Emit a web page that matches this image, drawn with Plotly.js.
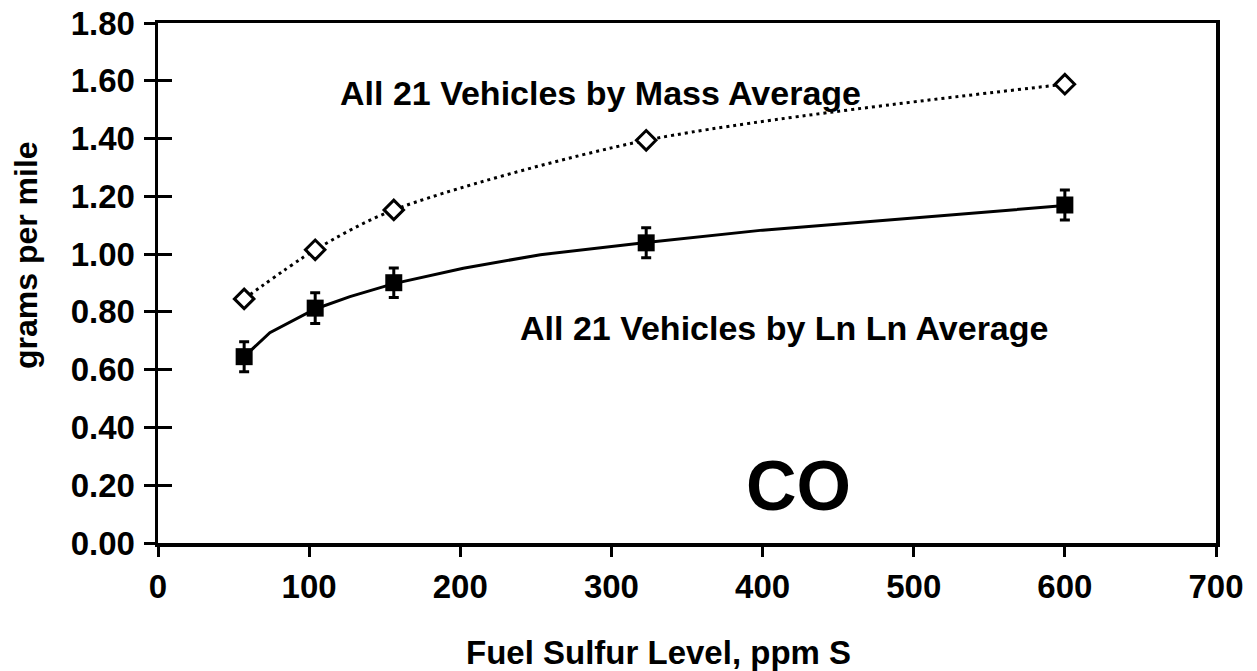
<!DOCTYPE html>
<html>
<head>
<meta charset="utf-8">
<script src="https://cdn.plot.ly/plotly-3.0.1.min.js"></script>
<style>
  html, body { margin: 0; padding: 0; background: #fff; }
  #chart { width: 1257px; height: 671px; }
</style>
</head>
<body>
<div id="chart"></div>
<script>
// Fuel sulfur levels (ppm S) of the test fuels
const sulfurLevels = [57, 104, 156, 323, 600];

// CO, grams per mile: mass average over all 21 vehicles
const massAverage = [0.845, 1.015, 1.153, 1.394, 1.588];

// CO, grams per mile: ln-ln average over all 21 vehicles, with error bars
const lnLnAverage = [0.645, 0.813, 0.901, 1.039, 1.170];
const lnLnError = [0.052, 0.053, 0.051, 0.052, 0.052];

// Fitted ln-ln trend curve
const fitSulfur = [57, 74, 104, 127, 156, 202, 253, 323, 400, 500, 600];
const fitCO = [0.645, 0.728, 0.810, 0.853, 0.898, 0.951, 0.998, 1.040, 1.083, 1.126, 1.168];

const FONT = '"Liberation Sans", Arial, Helvetica, sans-serif';

const traces = [
  {
    x: fitSulfur, y: fitCO,
    mode: 'lines', type: 'scatter',
    line: {color: '#000', width: 3},
    hoverinfo: 'skip', showlegend: false
  },
  {
    x: sulfurLevels, y: lnLnAverage,
    mode: 'markers', type: 'scatter',
    marker: {symbol: 'square', size: 17, color: '#000'},
    error_y: {type: 'data', array: lnLnError, visible: true, color: '#000', thickness: 3, width: 5},
    name: 'All 21 Vehicles by Ln Ln Average', showlegend: false
  },
  {
    x: sulfurLevels, y: massAverage,
    mode: 'lines+markers', type: 'scatter',
    line: {color: '#000', width: 3, dash: '3px,4px', shape: 'spline', smoothing: 0.8},
    marker: {symbol: 'diamond', size: 15, color: '#fff', line: {color: '#000', width: 3}},
    name: 'All 21 Vehicles by Mass Average', showlegend: false
  },
  // invisible trace that carries the inward half of the y-axis cross ticks
  {
    x: [0], y: [0], yaxis: 'y2', mode: 'markers',
    marker: {opacity: 0}, hoverinfo: 'skip', showlegend: false
  }
];

const layout = {
  width: 1257, height: 671,
  margin: {l: 158, r: 41, t: 23, b: 128},
  paper_bgcolor: '#fff', plot_bgcolor: '#fff',
  font: {family: FONT, color: '#000'},
  showlegend: false,
  xaxis: {
    range: [0, 700], tickvals: [0, 100, 200, 300, 400, 500, 600, 700],
    ticks: 'outside', ticklen: 10, tickwidth: 3, tickcolor: '#000',
    showline: true, linewidth: 3.5, linecolor: '#000', mirror: true,
    showgrid: false, zeroline: false,
    tickfont: {family: FONT, size: 33, color: '#000', weight: 'bold'},
    ticklabelstandoff: 2
  },
  yaxis: {
    range: [0, 1.8], tickvals: [0, 0.2, 0.4, 0.6, 0.8, 1.0, 1.2, 1.4, 1.6, 1.8],
    tickformat: '.2f',
    ticks: 'outside', ticklen: 11, tickwidth: 3, tickcolor: '#000',
    showline: true, linewidth: 3.5, linecolor: '#000', mirror: true,
    showgrid: false, zeroline: false,
    tickfont: {family: FONT, size: 33, color: '#000', weight: 'bold'},
    ticklabelstandoff: 2
  },
  yaxis2: {
    range: [0, 1.8], tickvals: [0, 0.2, 0.4, 0.6, 0.8, 1.0, 1.2, 1.4, 1.6, 1.8],
    overlaying: 'y', side: 'left', anchor: 'x',
    ticks: 'inside', ticklen: 14, tickwidth: 3, tickcolor: '#000',
    showticklabels: false, showline: false, showgrid: false, zeroline: false
  },
  annotations: [
    {
      x: 292.5, y: 1.556, xref: 'x', yref: 'y', showarrow: false,
      xanchor: 'center', yanchor: 'middle',
      text: 'All 21 Vehicles by Mass Average',
      font: {family: FONT, size: 34, color: '#000', weight: 'bold'}
    },
    {
      x: 414, y: 0.745, xref: 'x', yref: 'y', showarrow: false,
      xanchor: 'center', yanchor: 'middle',
      text: 'All 21 Vehicles by Ln Ln Average',
      font: {family: FONT, size: 34, color: '#000', weight: 'bold'}
    },
    {
      x: 423.5, y: 0.197, xref: 'x', yref: 'y', showarrow: false,
      xanchor: 'center', yanchor: 'middle',
      text: 'CO',
      font: {family: FONT, size: 70, color: '#000', weight: 'bold'}
    },
    {
      x: 658.5, y: 652, xref: 'paper', yref: 'paper', showarrow: false,
      xanchor: 'center', yanchor: 'middle',
      text: 'Fuel Sulfur Level, ppm S',
      font: {family: FONT, size: 33, color: '#000', weight: 'bold'}
    },
    {
      x: 26, y: 255, xref: 'paper', yref: 'paper', showarrow: false,
      xanchor: 'center', yanchor: 'middle',
      text: 'grams per mile', textangle: -90,
      font: {family: FONT, size: 32, color: '#000', weight: 'bold'}
    }
  ]
};

// convert the two pixel-placed titles to paper coordinates
(function () {
  const w = layout.width - layout.margin.l - layout.margin.r;
  const h = layout.height - layout.margin.t - layout.margin.b;
  for (const a of layout.annotations) {
    if (a.xref === 'paper') {
      a.x = (a.x - layout.margin.l) / w;
      a.y = (layout.height - layout.margin.b - a.y) / h;
    }
  }
})();

Plotly.newPlot('chart', traces, layout, {displayModeBar: false, staticPlot: true});
</script>
</body>
</html>
